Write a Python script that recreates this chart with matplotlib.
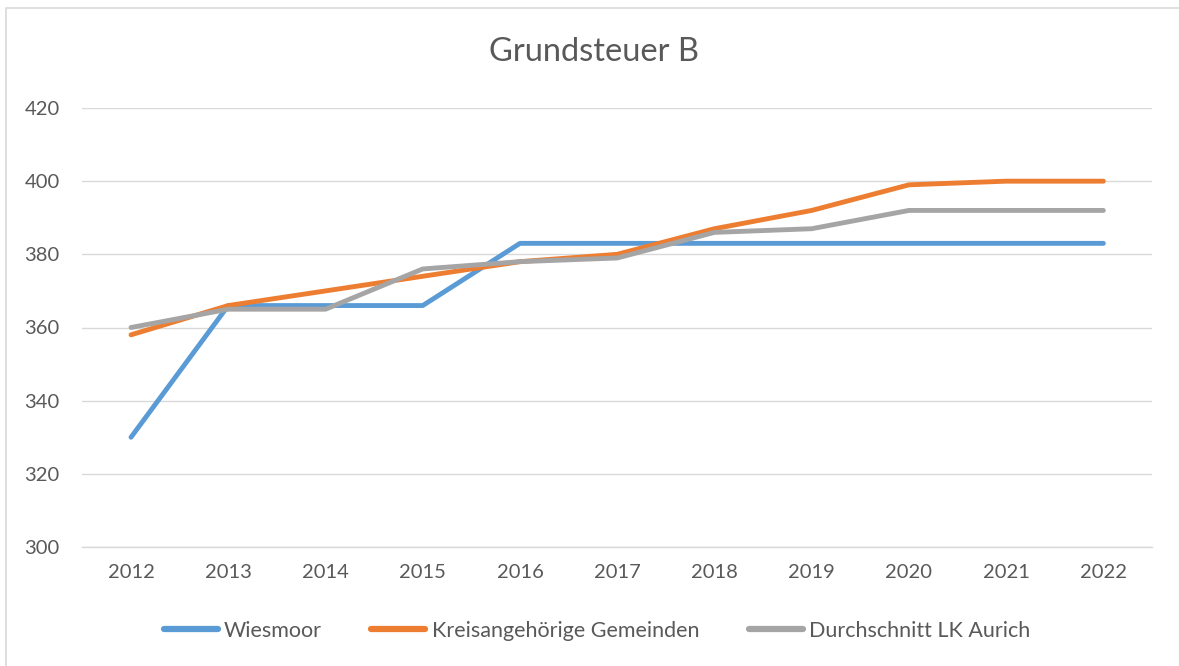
import matplotlib
matplotlib.use("Agg")
import matplotlib.pyplot as plt
from matplotlib.lines import Line2D
import matplotlib.transforms as mtransforms

years = ["2012", "2013", "2014", "2015", "2016", "2017", "2018", "2019", "2020", "2021", "2022"]
wiesmoor = [330, 366, 366, 366, 383, 383, 383, 383, 383, 383, 383]
kreisangehoerige = [358, 366, 370, 374, 378, 380, 387, 392, 399, 400, 400]
durchschnitt = [360, 365, 365, 376, 378, 379, 386, 387, 392, 392, 392]
series_names = ["Wiesmoor", "Kreisangehörige Gemeinden", "Durchschnitt LK Aurich"]
colors = ["#5b9bd5", "#ed7d31", "#a5a5a5"]
title = "Grundsteuer B"
yticks = [300, 320, 340, 360, 380, 400, 420]

plt.rcParams['font.family'] = ['Lato', 'DejaVu Sans']
text_color = "#595959"

W, H = 1179, 666
fig = plt.figure(figsize=(W / 100, H / 100), dpi=100)
ax = fig.add_axes([82.4 / W, 1 - 547 / H, (1152 - 82.4) / W, (547 - 108) / H])

x = list(range(len(years)))
for vals, name, c in zip([wiesmoor, kreisangehoerige, durchschnitt], series_names, colors):
    ax.plot(x, vals, color=c, lw=3.5, label=name, solid_capstyle="round", solid_joinstyle="round")

ax.set_xlim(-0.5, len(years) - 0.5)
ax.set_ylim(300, 420)
ax.set_yticks(yticks)
ax.set_xticks(x)
ax.set_xticklabels(years)
ax.grid(axis="y", color="#d9d9d9", lw=1.0)
ax.set_axisbelow(True)
for s in ["top", "right", "left"]:
    ax.spines[s].set_visible(False)
ax.spines["bottom"].set_color("#d9d9d9")
ax.spines["bottom"].set_linewidth(1.0)
ax.tick_params(axis="both", length=0, labelsize=14.5, labelcolor=text_color)
ax.tick_params(axis="x", pad=12)
ax.yaxis.set_tick_params(pad=0)
offset = mtransforms.ScaledTranslation(-58 / 100, 0, fig.dpi_scale_trans)
for lbl in ax.get_yticklabels():
    lbl.set_horizontalalignment("left")
    lbl.set_transform(lbl.get_transform() + offset)

fig.text(594 / W, 1 - 52 / H, title, ha="center", va="center", fontsize=23.5, color=text_color)

leg = fig.legend(loc="center", bbox_to_anchor=(597 / W, 1 - 631 / H), ncol=3, frameon=False,
                 fontsize=15.5, labelcolor=text_color, handlelength=2.5, handletextpad=0.3,
                 columnspacing=2.3)
for h in leg.get_lines():
    h.set_linewidth(4.5)

fig.add_artist(Line2D([6 / W, 6 / W, 1], [0, 1 - 8 / H, 1 - 8 / H], transform=fig.transFigure,
                      color="#d9d9d9", lw=1.2))

fig.savefig("out.png", dpi=100)
